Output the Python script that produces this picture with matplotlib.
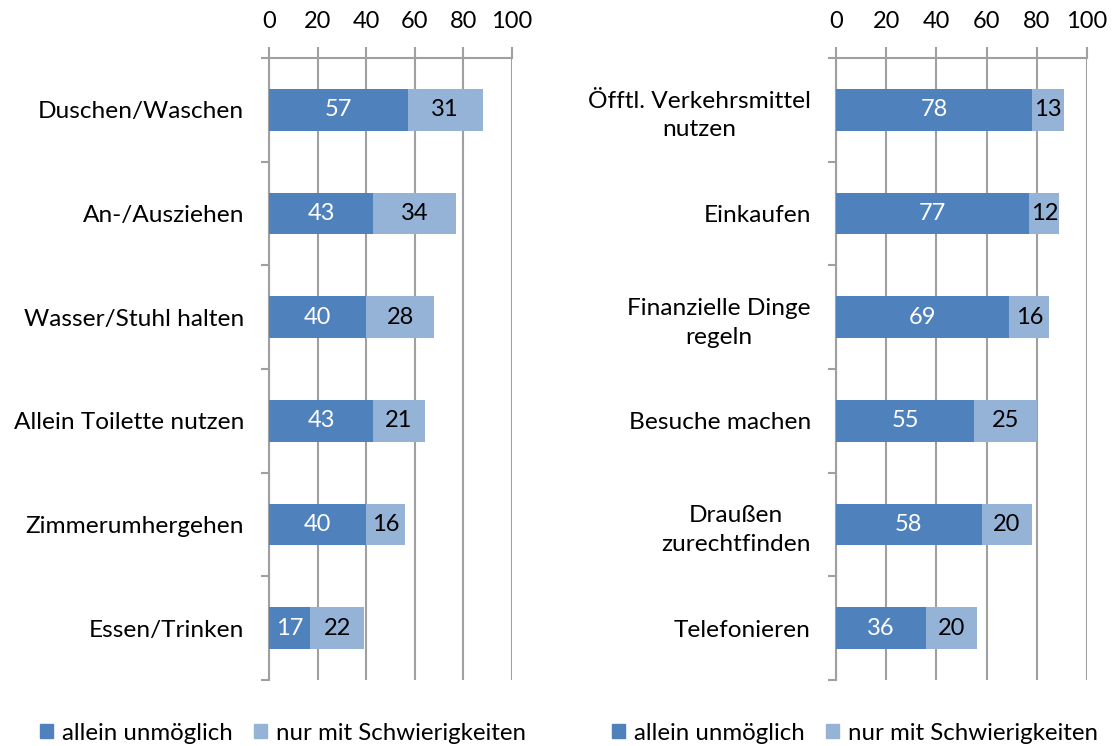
import numpy as np
import matplotlib; matplotlib.use("Agg")
import matplotlib.pyplot as plt
from matplotlib.patches import Patch

plt.rcParams["font.family"] = ["Lato", "DejaVu Sans"]

# left panel: basic activities
LEFT_CATS = ["Duschen/Waschen", "An-/Ausziehen", "Wasser/Stuhl halten",
             "Allein Toilette nutzen", "Zimmerumhergehen", "Essen/Trinken"]
LEFT_IMPOSSIBLE = [57, 43, 40, 43, 40, 17]
LEFT_DIFFICULT = [31, 34, 28, 21, 16, 22]
# right panel: instrumental activities
RIGHT_CATS = ["Öfftl. Verkehrsmittel\nnutzen", "Einkaufen", "Finanzielle Dinge\nregeln",
              "Besuche machen", "Draußen\nzurechtfinden", "Telefonieren"]
RIGHT_IMPOSSIBLE = [78, 77, 69, 55, 58, 36]
RIGHT_DIFFICULT = [13, 12, 16, 25, 20, 20]
SERIES = ["allein unmöglich", "nur mit Schwierigkeiten"]

DARK, LIGHT, GRID = "#4F81BD", "#95B3D7", "#A0A0A0"
FS = 17

fig = plt.figure(figsize=(11.13, 7.46), dpi=100)
axL = fig.add_axes([269/1113, 1-680/746, 243/1113, 622/746])
axR = fig.add_axes([836/1113, 1-680/746, 251/1113, 622/746])


def panel(ax, cats, a, b, legend_x):
    y = np.arange(len(cats))
    ax.barh(y, a, height=0.4, color=DARK, zorder=3)
    ax.barh(y, b, left=a, height=0.4, color=LIGHT, zorder=3)
    for yi, ai, bi in zip(y, a, b):
        ax.text(ai / 2, yi, str(ai), ha="center", va="center", color="white", fontsize=FS, zorder=4)
        ax.text(ai + bi / 2, yi, str(bi), ha="center", va="center", color="black", fontsize=FS, zorder=4)
    ax.set_xlim(0, 100); ax.set_ylim(len(cats) - 0.5, -0.5)
    ax.set_xticks(range(0, 101, 20))
    ax.xaxis.tick_top()
    ax.tick_params(axis="x", length=8, width=1.5, color=GRID, labelsize=FS, pad=11)
    ax.set_yticks(y)
    ax.set_yticklabels(cats, multialignment="center", linespacing=1.45)
    ax.set_yticks(np.arange(-0.5, len(cats)), minor=True)
    ax.tick_params(axis="y", which="major", length=0, labelsize=17.6, pad=18)
    ax.tick_params(axis="y", which="minor", length=6, width=1.5, color=GRID)
    ax.grid(axis="x", color=GRID, lw=1.5, zorder=0)
    for s in ("right", "bottom"):
        ax.spines[s].set_visible(False)
    for s in ("left", "top"):
        ax.spines[s].set_color(GRID); ax.spines[s].set_linewidth(1.5)
    handles = [Patch(color=DARK, label=SERIES[0]), Patch(color=LIGHT, label=SERIES[1])]
    fig.legend(handles=handles, loc="center", bbox_to_anchor=(legend_x, 1 - 733/746), ncol=2,
               frameon=False, fontsize=17.3, handlelength=0.55, handleheight=0.55,
               handletextpad=0.35, columnspacing=0.9, borderpad=0)


panel(axL, LEFT_CATS, LEFT_IMPOSSIBLE, LEFT_DIFFICULT, 283/1113)
panel(axR, RIGHT_CATS, RIGHT_IMPOSSIBLE, RIGHT_DIFFICULT, 855/1113)

fig.savefig("out.png", dpi=100)
